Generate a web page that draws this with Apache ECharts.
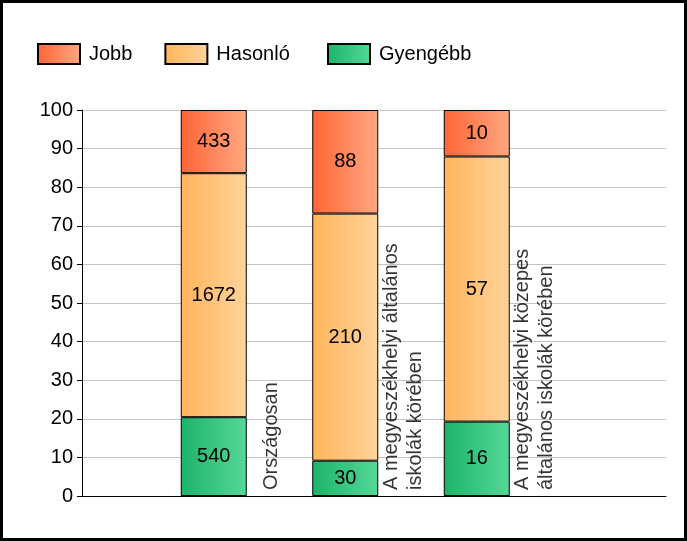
<!DOCTYPE html>
<html><head><meta charset="utf-8">
<script src="https://cdn.jsdelivr.net/npm/echarts@6/dist/echarts.min.js"></script>
<style>
html,body{margin:0;padding:0;background:#fff;}
#wrap{position:relative;width:687px;height:541px;}
#c{position:absolute;left:0;top:0;width:687px;height:541px;}
#frame{position:absolute;left:0;top:0;width:687px;height:541px;box-sizing:border-box;border:3px solid #000;pointer-events:none;}
</style></head>
<body><div id="wrap"><div id="c"></div><div id="frame"></div></div>
<script>
const categories = ['Országosan', 'A megyeszékhelyi általános\niskolák körében', 'A megyeszékhelyi közepes\náltalános iskolák körében'];
const seriesNames = ['Jobb', 'Hasonló', 'Gyengébb'];
const jobb = [433, 88, 10];
const hasonlo = [1672, 210, 57];
const gyengebb = [540, 30, 16];
const yTicks = [0, 10, 20, 30, 40, 50, 60, 70, 80, 90, 100];

const totals = categories.map((_, i) => jobb[i] + hasonlo[i] + gyengebb[i]);
const pct = arr => arr.map((v, i) => v / totals[i] * 100);

function grad(a, b) {
  return new echarts.graphic.LinearGradient(0, 0, 1, 0, [{offset: 0, color: a}, {offset: 1, color: b}]);
}
const FONT = 'Liberation Sans, Arial, sans-serif';
function barSeries(name, counts, c1, c2) {
  return {
    name, type: 'bar', stack: 'all', barWidth: 66,
    xAxisIndex: 1, yAxisIndex: 1,
    data: pct(counts),
    itemStyle: {color: grad(c1, c2), borderColor: '#000', borderWidth: 1},
    label: {show: true, position: 'inside', color: '#000', fontSize: 20, fontFamily: FONT,
      formatter: p => String(counts[p.dataIndex])},
    emphasis: {disabled: true}
  };
}
const legendBase = {
  top: 38, itemWidth: 42, itemHeight: 20, itemGap: 32, icon: 'rect',
  textStyle: {color: '#000', fontSize: 20, fontFamily: FONT, padding: [0, 0, 0, 4]}
};

const chart = echarts.init(document.getElementById('c'));
chart.setOption({
  animation: false,
  backgroundColor: '#fff',
  legend: [
    Object.assign({left: 32, data: seriesNames.slice(0, 2)}, legendBase),
    Object.assign({left: 322, data: seriesNames.slice(2)}, legendBase)
  ],
  grid: [
    {left: 82, top: 110, right: 21, bottom: 45},
    {left: 148, top: 110, width: 394.5, bottom: 45}
  ],
  xAxis: [{
    gridIndex: 0, type: 'value', min: 0, max: 1,
    axisLine: {show: true, lineStyle: {color: '#000', width: 1}},
    axisTick: {show: false}, axisLabel: {show: false}, splitLine: {show: false}
  }, {
    gridIndex: 1, type: 'category', data: categories,
    axisLine: {show: false}, axisTick: {show: false}, axisLabel: {show: false}, splitLine: {show: false}
  }],
  yAxis: [{
    gridIndex: 0, type: 'value', min: yTicks[0], max: yTicks[yTicks.length - 1], interval: 10,
    axisLine: {show: true, lineStyle: {color: '#000'}},
    axisTick: {show: true, length: 5, lineStyle: {color: '#000'}},
    axisLabel: {color: '#000', fontSize: 20, fontFamily: FONT, margin: 9},
    splitLine: {lineStyle: {color: '#c4c4c4'}}
  }, {
    gridIndex: 1, type: 'value', min: yTicks[0], max: yTicks[yTicks.length - 1],
    show: false, splitLine: {show: false}
  }],
  series: [
    barSeries('Gyengébb', gyengebb, '#1db36a', '#55d898'),
    barSeries('Hasonló', hasonlo, '#ffb55a', '#ffd39c'),
    barSeries('Jobb', jobb, '#ff6535', '#ffa882'),
    {
      type: 'scatter', symbolSize: 0, silent: true, legendHoverLink: false,
      xAxisIndex: 1, yAxisIndex: 1,
      data: categories.map((c, i) => [i, 0]),
      itemStyle: {color: 'transparent'},
      label: {
        show: true, position: [58, -6], rotate: 90, align: 'left', verticalAlign: 'middle',
        color: '#000', fontSize: 20, fontFamily: FONT, lineHeight: 24,
        formatter: p => categories[p.dataIndex]
      }
    }
  ]
});
</script></body></html>
